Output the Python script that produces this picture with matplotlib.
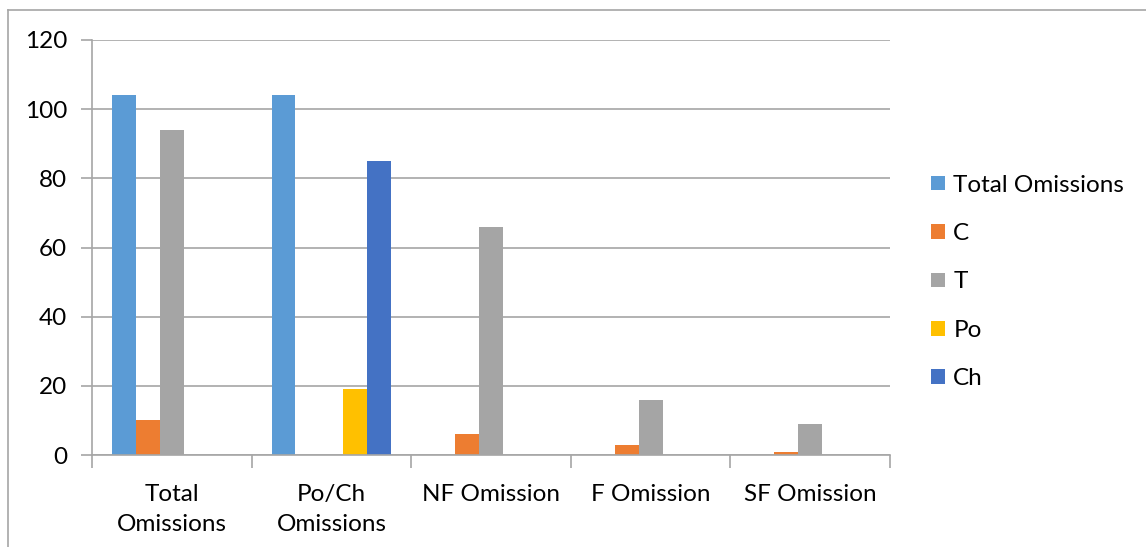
import numpy as np
import matplotlib.pyplot as plt

categories = ['Total\nOmissions', 'Po/Ch\nOmissions', 'NF Omission', 'F Omission', 'SF Omission']
series_names = ['Total Omissions', 'C', 'T', 'Po', 'Ch']
total_omissions = [104, 104, 0, 0, 0]
c_vals = [10, 0, 6, 3, 1]
t_vals = [94, 0, 66, 16, 9]
po_vals = [0, 19, 0, 0, 0]
ch_vals = [0, 85, 0, 0, 0]
colors = ['#5B9BD5', '#ED7D31', '#A5A5A5', '#FFC000', '#4472C4']
yticks = [0, 20, 40, 60, 80, 100, 120]

plt.rcParams['font.family'] = ['Lato', 'DejaVu Sans']

fig = plt.figure(figsize=(11.46, 5.47), dpi=100)
ax = fig.add_axes([92/1146, 1-455/547, (890-92)/1146, (455-40)/547])

# cadre extérieur (haut et gauche seulement)
fig.add_artist(plt.Line2D([8/1146, 1], [1-9.5/547]*2, color='#A6A6A6', lw=1.2,
                          transform=fig.transFigure))
fig.add_artist(plt.Line2D([8/1146]*2, [0, 1-9.5/547], color='#A6A6A6', lw=1.2,
                          transform=fig.transFigure))

x = np.arange(len(categories))
w = 0.15
data = [total_omissions, c_vals, t_vals, po_vals, ch_vals]
for i, (vals, name, col) in enumerate(zip(data, series_names, colors)):
    ax.bar(x + (i - 2) * w, vals, width=w, color=col, label=name, zorder=3)

ax.set_xlim(-0.5, len(categories) - 0.5)
ax.set_ylim(0, 120)
ax.set_yticks(yticks)
ax.yaxis.grid(True, color='#A6A6A6', lw=1.2, zorder=0)
ax.set_xticks(x)
ax.set_xticklabels(categories, fontsize=17.5, linespacing=1.5)
ax.tick_params(axis='x', length=0, pad=21)
ax.tick_params(axis='y', labelsize=17.5, length=8, color='#A6A6A6', width=1.2, pad=10)
# séparateurs de catégories
ax.set_xticks(np.arange(len(categories) + 1) - 0.5, minor=True)
ax.tick_params(axis='x', which='minor', length=9, color='#A6A6A6', width=1.2)
for s in ['top', 'right']:
    ax.spines[s].set_visible(False)
for s in ['left', 'bottom']:
    ax.spines[s].set_color('#A6A6A6')
    ax.spines[s].set_linewidth(1.2)
    ax.spines[s].set_zorder(4)

ax.legend(loc='center left', bbox_to_anchor=(1.052, 0.417), frameon=False,
          fontsize=17.5, handlelength=0.55, handleheight=0.55, handletextpad=0.35,
          labelspacing=1.13, borderpad=0, borderaxespad=0)

fig.savefig('out.png', dpi=100)
